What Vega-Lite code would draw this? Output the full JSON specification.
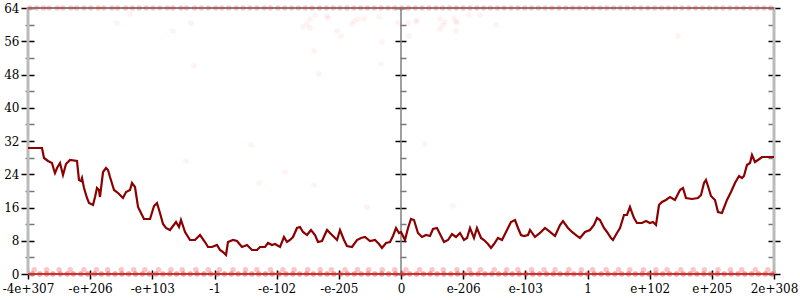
{
  "$schema": "https://vega.github.io/schema/vega-lite/v6.json",
  "width": 746,
  "height": 266,
  "autosize": {"type": "none"},
  "padding": {"left": 28, "top": 8, "right": 26, "bottom": 26},
  "background": "white",
  "config": {
    "view": {"stroke": null},
    "axis": {"labelFont": "DejaVu Serif", "labelFontSize": 12, "labelColor": "black", "grid": false, "domain": false, "title": null}
  },
  "datasets": {
    "dots": [
      {"x":-5.97,"y":64},{"x":-5.86,"y":64},{"x":-5.75,"y":64},{"x":-5.66,"y":64},{"x":-5.53,"y":64},{"x":-5.44,"y":64},{"x":-5.31,"y":64},{"x":-5.22,"y":64},{"x":-5.1,"y":64},{"x":-4.99,"y":64},{"x":-4.87,"y":64},{"x":-4.78,"y":64},{"x":-4.65,"y":64},{"x":-4.56,"y":64},{"x":-4.43,"y":64},{"x":-4.32,"y":64},{"x":-4.21,"y":64},{"x":-4.1,"y":64},{"x":-3.99,"y":64},{"x":-3.88,"y":64},{"x":-3.76,"y":64},{"x":-3.67,"y":64},{"x":-3.54,"y":64},{"x":-3.45,"y":64},{"x":-3.32,"y":64},{"x":-3.21,"y":64},{"x":-3.1,"y":64},{"x":-2.98,"y":64},{"x":-2.88,"y":64},{"x":-2.77,"y":64},{"x":-2.65,"y":64},{"x":-2.54,"y":64},{"x":-2.43,"y":64},{"x":-2.32,"y":64},{"x":-2.2,"y":64},{"x":-2.1,"y":64},{"x":-1.98,"y":64},{"x":-1.87,"y":64},{"x":-1.76,"y":64},{"x":-1.65,"y":64},{"x":-1.54,"y":64},{"x":-1.43,"y":64},{"x":-1.31,"y":64},{"x":-1.2,"y":64},{"x":-1.09,"y":64},{"x":-0.98,"y":64},{"x":-0.87,"y":64},{"x":-0.76,"y":64},{"x":-0.65,"y":64},{"x":-0.54,"y":64},{"x":-0.43,"y":64},{"x":-0.32,"y":64},{"x":-0.21,"y":64},{"x":-0.1,"y":64},{"x":0.01,"y":64},{"x":0.12,"y":64},{"x":0.23,"y":64},{"x":0.34,"y":64},{"x":0.45,"y":64},{"x":0.56,"y":64},{"x":0.67,"y":64},{"x":0.78,"y":64},{"x":0.89,"y":64},{"x":1.0,"y":64},{"x":1.11,"y":64},{"x":1.22,"y":64},{"x":1.33,"y":64},{"x":1.44,"y":64},{"x":1.55,"y":64},{"x":1.66,"y":64},{"x":1.77,"y":64},{"x":1.88,"y":64},{"x":1.99,"y":64},{"x":2.1,"y":64},{"x":2.21,"y":64},{"x":2.32,"y":64},{"x":2.43,"y":64},{"x":2.54,"y":64},{"x":2.65,"y":64},{"x":2.76,"y":64},{"x":2.87,"y":64},{"x":2.98,"y":64},{"x":3.09,"y":64},{"x":3.2,"y":64},{"x":3.31,"y":64},{"x":3.42,"y":64},{"x":3.53,"y":64},{"x":3.64,"y":64},{"x":3.75,"y":64},{"x":3.86,"y":64},{"x":3.97,"y":64},{"x":4.08,"y":64},{"x":4.19,"y":64},{"x":4.3,"y":64},{"x":4.41,"y":64},{"x":4.52,"y":64},{"x":4.63,"y":64},{"x":4.74,"y":64},{"x":4.85,"y":64},{"x":4.96,"y":64},{"x":5.07,"y":64},{"x":5.18,"y":64},{"x":5.29,"y":64},{"x":5.4,"y":64},{"x":5.51,"y":64},{"x":5.62,"y":64},{"x":5.73,"y":64},{"x":5.84,"y":64},{"x":5.95,"y":64},
      {"x":-5.93,"y":0},{"x":-5.81,"y":0},{"x":-5.7,"y":0},{"x":-5.6,"y":0},{"x":-5.48,"y":0},{"x":-5.37,"y":0},{"x":-5.27,"y":0},{"x":-5.15,"y":0},{"x":-5.04,"y":0},{"x":-4.93,"y":0},{"x":-4.82,"y":0},{"x":-4.71,"y":0},{"x":-4.6,"y":0},{"x":-4.49,"y":0},{"x":-4.38,"y":0},{"x":-4.27,"y":0},{"x":-4.16,"y":0},{"x":-4.05,"y":0},{"x":-3.94,"y":0},{"x":-3.83,"y":0},{"x":-3.72,"y":0},{"x":-3.61,"y":0},{"x":-3.5,"y":0},{"x":-3.39,"y":0},{"x":-3.28,"y":0},{"x":-3.17,"y":0},{"x":-3.06,"y":0},{"x":-2.95,"y":0},{"x":-2.84,"y":0},{"x":-2.73,"y":0},{"x":-2.62,"y":0},{"x":-2.51,"y":0},{"x":-2.4,"y":0},{"x":-2.29,"y":0},{"x":-2.18,"y":0},{"x":-2.07,"y":0},{"x":-1.96,"y":0},{"x":-1.85,"y":0},{"x":-1.74,"y":0},{"x":-1.63,"y":0},{"x":-1.52,"y":0},{"x":-1.41,"y":0},{"x":-1.3,"y":0},{"x":-1.19,"y":0},{"x":-1.08,"y":0},{"x":-0.97,"y":0},{"x":-0.86,"y":0},{"x":-0.75,"y":0},{"x":-0.64,"y":0},{"x":-0.53,"y":0},{"x":-0.42,"y":0},{"x":-0.31,"y":0},{"x":-0.2,"y":0},{"x":-0.09,"y":0},{"x":0.03,"y":0},{"x":0.14,"y":0},{"x":0.25,"y":0},{"x":0.36,"y":0},{"x":0.47,"y":0},{"x":0.58,"y":0},{"x":0.69,"y":0},{"x":0.8,"y":0},{"x":0.91,"y":0},{"x":1.02,"y":0},{"x":1.13,"y":0},{"x":1.24,"y":0},{"x":1.35,"y":0},{"x":1.46,"y":0},{"x":1.57,"y":0},{"x":1.68,"y":0},{"x":1.79,"y":0},{"x":1.9,"y":0},{"x":2.01,"y":0},{"x":2.12,"y":0},{"x":2.23,"y":0},{"x":2.34,"y":0},{"x":2.45,"y":0},{"x":2.56,"y":0},{"x":2.67,"y":0},{"x":2.78,"y":0},{"x":2.89,"y":0},{"x":3.0,"y":0},{"x":3.11,"y":0},{"x":3.22,"y":0},{"x":3.33,"y":0},{"x":3.44,"y":0},{"x":3.55,"y":0},{"x":3.66,"y":0},{"x":3.77,"y":0},{"x":3.88,"y":0},{"x":3.99,"y":0},{"x":4.1,"y":0},{"x":4.21,"y":0},{"x":4.32,"y":0},{"x":4.43,"y":0},{"x":4.54,"y":0},{"x":4.65,"y":0},{"x":4.76,"y":0},{"x":4.87,"y":0},{"x":4.98,"y":0},{"x":5.09,"y":0},{"x":5.2,"y":0},{"x":5.31,"y":0},{"x":5.42,"y":0},{"x":5.53,"y":0},{"x":5.64,"y":0},{"x":5.75,"y":0},{"x":5.86,"y":0},{"x":5.97,"y":0},
      {"x":-5.9,"y":1},{"x":-5.7,"y":1},{"x":-5.5,"y":1},{"x":-5.32,"y":1},{"x":-5.1,"y":1},{"x":-4.9,"y":1},{"x":-4.72,"y":1},{"x":-4.5,"y":1},{"x":-4.3,"y":1},{"x":-4.12,"y":1},{"x":-3.9,"y":1},{"x":-3.7,"y":1},{"x":-3.52,"y":1},{"x":-3.3,"y":1},{"x":-3.1,"y":1},{"x":-2.92,"y":1},{"x":-2.7,"y":1},{"x":-2.5,"y":1},{"x":-2.32,"y":1},{"x":-2.1,"y":1},{"x":-1.9,"y":1},{"x":-1.72,"y":1},{"x":-1.5,"y":1},{"x":-1.3,"y":1},{"x":-1.12,"y":1},{"x":-0.9,"y":1},{"x":-0.7,"y":1},{"x":-0.52,"y":1},{"x":-0.3,"y":1},{"x":-0.1,"y":1},{"x":0.08,"y":1},{"x":0.3,"y":1},{"x":0.5,"y":1},{"x":0.68,"y":1},{"x":0.9,"y":1},{"x":1.1,"y":1},{"x":1.28,"y":1},{"x":1.5,"y":1},{"x":1.7,"y":1},{"x":1.88,"y":1},{"x":2.1,"y":1},{"x":2.3,"y":1},{"x":2.48,"y":1},{"x":2.7,"y":1},{"x":2.9,"y":1},{"x":3.08,"y":1},{"x":3.3,"y":1},{"x":3.5,"y":1},{"x":3.68,"y":1},{"x":3.9,"y":1},{"x":4.1,"y":1},{"x":4.28,"y":1},{"x":4.5,"y":1},{"x":4.7,"y":1},{"x":4.88,"y":1},{"x":5.1,"y":1},{"x":5.3,"y":1},{"x":5.48,"y":1},{"x":5.7,"y":1},{"x":5.9,"y":1},
      {"x":-4.568,"y":60.39},{"x":-4.359,"y":62.56},{"x":-3.667,"y":58.47},{"x":-3.378,"y":60.39},{"x":-3.33,"y":50.05},{"x":-1.576,"y":59.43},{"x":-1.512,"y":60.15},{"x":-1.464,"y":61.36},{"x":-1.464,"y":59.19},{"x":-1.383,"y":62.32},{"x":-1.19,"y":62.08},{"x":-1.174,"y":61.6},{"x":-1.029,"y":58.47},{"x":-0.965,"y":57.27},{"x":-0.788,"y":60.15},{"x":-0.756,"y":60.88},{"x":-0.692,"y":61.36},{"x":-0.595,"y":61.36},{"x":-0.354,"y":61.84},{"x":-0.306,"y":55.82},{"x":-1.399,"y":53.66},{"x":-0.322,"y":50.53},{"x":-1.319,"y":48.12},{"x":-0.048,"y":60.39},{"x":0.113,"y":60.39},{"x":0.129,"y":57.27},{"x":0.241,"y":60.63},{"x":0.257,"y":61.12},{"x":0.627,"y":61.36},{"x":0.676,"y":59.91},{"x":0.708,"y":60.63},{"x":0.627,"y":58.95},{"x":0.852,"y":61.6},{"x":0.885,"y":60.88},{"x":0.901,"y":60.39},{"x":0.885,"y":58.47},{"x":1.094,"y":62.32},{"x":1.271,"y":62.32},{"x":1.528,"y":59.91},{"x":4.456,"y":57.27},{"x":-3.458,"y":27.19},{"x":-2.413,"y":31.04},{"x":-2.284,"y":21.9},{"x":-1.866,"y":24.54},{"x":-1.399,"y":21.41},{"x":-0.547,"y":16.12},{"x":0.386,"y":31.28},{"x":0.836,"y":16.36}
    ],
    "curve": [
      {"x":-6.0,"y":30.32},{"x":-5.775,"y":30.32},{"x":-5.742,"y":27.91},{"x":-5.678,"y":27.19},{"x":-5.614,"y":26.71},{"x":-5.582,"y":25.02},{"x":-5.566,"y":24.3},{"x":-5.533,"y":25.51},{"x":-5.485,"y":26.71},{"x":-5.437,"y":23.82},{"x":-5.389,"y":26.47},{"x":-5.324,"y":27.43},{"x":-5.212,"y":27.19},{"x":-5.18,"y":22.62},{"x":-5.147,"y":22.38},{"x":-5.131,"y":23.1},{"x":-5.099,"y":20.69},{"x":-5.051,"y":18.29},{"x":-5.019,"y":17.08},{"x":-4.954,"y":16.6},{"x":-4.922,"y":18.53},{"x":-4.89,"y":20.69},{"x":-4.858,"y":20.21},{"x":-4.842,"y":18.53},{"x":-4.793,"y":24.54},{"x":-4.745,"y":25.51},{"x":-4.713,"y":25.02},{"x":-4.681,"y":23.34},{"x":-4.616,"y":20.21},{"x":-4.552,"y":19.49},{"x":-4.504,"y":18.77},{"x":-4.472,"y":18.29},{"x":-4.423,"y":19.73},{"x":-4.359,"y":20.21},{"x":-4.327,"y":21.9},{"x":-4.279,"y":20.93},{"x":-4.23,"y":16.12},{"x":-4.182,"y":14.68},{"x":-4.134,"y":13.23},{"x":-4.037,"y":13.23},{"x":-3.973,"y":16.36},{"x":-3.925,"y":17.08},{"x":-3.877,"y":14.68},{"x":-3.828,"y":12.03},{"x":-3.78,"y":11.07},{"x":-3.716,"y":10.59},{"x":-3.619,"y":12.51},{"x":-3.571,"y":11.31},{"x":-3.539,"y":12.99},{"x":-3.474,"y":10.11},{"x":-3.394,"y":8.18},{"x":-3.314,"y":8.18},{"x":-3.233,"y":9.38},{"x":-3.153,"y":7.7},{"x":-3.104,"y":6.5},{"x":-3.04,"y":6.5},{"x":-2.96,"y":6.98},{"x":-2.911,"y":5.77},{"x":-2.863,"y":5.29},{"x":-2.815,"y":4.57},{"x":-2.783,"y":7.7},{"x":-2.702,"y":8.18},{"x":-2.638,"y":7.94},{"x":-2.558,"y":6.5},{"x":-2.477,"y":6.98},{"x":-2.397,"y":5.77},{"x":-2.316,"y":5.77},{"x":-2.268,"y":6.5},{"x":-2.188,"y":6.5},{"x":-2.139,"y":7.46},{"x":-2.075,"y":6.98},{"x":-2.027,"y":7.22},{"x":-1.946,"y":6.5},{"x":-1.882,"y":8.9},{"x":-1.834,"y":7.7},{"x":-1.785,"y":8.18},{"x":-1.737,"y":8.9},{"x":-1.673,"y":11.07},{"x":-1.625,"y":11.31},{"x":-1.576,"y":10.11},{"x":-1.512,"y":9.38},{"x":-1.448,"y":10.59},{"x":-1.383,"y":9.38},{"x":-1.335,"y":7.7},{"x":-1.271,"y":7.94},{"x":-1.19,"y":10.59},{"x":-1.11,"y":9.38},{"x":-1.029,"y":8.18},{"x":-0.981,"y":10.59},{"x":-0.917,"y":8.18},{"x":-0.869,"y":6.74},{"x":-0.788,"y":6.5},{"x":-0.708,"y":8.18},{"x":-0.643,"y":8.66},{"x":-0.579,"y":8.9},{"x":-0.499,"y":7.94},{"x":-0.418,"y":8.18},{"x":-0.354,"y":7.22},{"x":-0.306,"y":6.26},{"x":-0.241,"y":7.46},{"x":-0.177,"y":7.7},{"x":-0.129,"y":9.14},{"x":-0.08,"y":11.07},{"x":-0.032,"y":9.87},{"x":0.0,"y":10.11},{"x":0.064,"y":8.18},{"x":0.113,"y":11.07},{"x":0.161,"y":13.23},{"x":0.209,"y":12.99},{"x":0.273,"y":9.87},{"x":0.338,"y":8.9},{"x":0.402,"y":9.38},{"x":0.466,"y":9.14},{"x":0.515,"y":10.83},{"x":0.579,"y":11.07},{"x":0.627,"y":9.62},{"x":0.692,"y":7.7},{"x":0.756,"y":8.18},{"x":0.82,"y":9.62},{"x":0.885,"y":8.9},{"x":0.949,"y":9.87},{"x":1.013,"y":8.18},{"x":1.062,"y":8.66},{"x":1.11,"y":11.07},{"x":1.174,"y":8.66},{"x":1.222,"y":11.07},{"x":1.287,"y":8.66},{"x":1.335,"y":8.18},{"x":1.399,"y":7.22},{"x":1.448,"y":6.26},{"x":1.496,"y":7.22},{"x":1.56,"y":8.66},{"x":1.625,"y":8.18},{"x":1.673,"y":9.62},{"x":1.721,"y":11.07},{"x":1.769,"y":12.51},{"x":1.834,"y":12.99},{"x":1.882,"y":11.07},{"x":1.93,"y":9.38},{"x":1.978,"y":9.14},{"x":2.043,"y":9.38},{"x":2.075,"y":10.59},{"x":2.155,"y":8.9},{"x":2.236,"y":9.87},{"x":2.316,"y":11.07},{"x":2.397,"y":10.11},{"x":2.477,"y":9.14},{"x":2.558,"y":11.79},{"x":2.606,"y":12.75},{"x":2.686,"y":11.07},{"x":2.751,"y":10.11},{"x":2.815,"y":9.38},{"x":2.879,"y":8.66},{"x":2.96,"y":10.11},{"x":3.04,"y":10.59},{"x":3.104,"y":11.79},{"x":3.153,"y":13.47},{"x":3.201,"y":12.99},{"x":3.265,"y":11.07},{"x":3.314,"y":10.11},{"x":3.378,"y":8.66},{"x":3.41,"y":8.18},{"x":3.474,"y":9.87},{"x":3.523,"y":11.07},{"x":3.587,"y":14.2},{"x":3.635,"y":14.2},{"x":3.683,"y":16.12},{"x":3.748,"y":13.47},{"x":3.796,"y":12.27},{"x":3.877,"y":12.27},{"x":3.941,"y":12.75},{"x":4.005,"y":12.27},{"x":4.053,"y":12.51},{"x":4.102,"y":11.79},{"x":4.15,"y":16.6},{"x":4.198,"y":17.32},{"x":4.262,"y":17.81},{"x":4.327,"y":18.53},{"x":4.407,"y":17.81},{"x":4.488,"y":20.21},{"x":4.536,"y":20.69},{"x":4.584,"y":18.29},{"x":4.681,"y":18.05},{"x":4.777,"y":18.29},{"x":4.826,"y":19.01},{"x":4.874,"y":21.9},{"x":4.906,"y":22.62},{"x":4.938,"y":21.17},{"x":4.986,"y":18.77},{"x":5.051,"y":17.81},{"x":5.099,"y":14.92},{"x":5.163,"y":14.68},{"x":5.244,"y":17.81},{"x":5.308,"y":19.73},{"x":5.372,"y":21.9},{"x":5.437,"y":23.58},{"x":5.485,"y":23.1},{"x":5.517,"y":23.58},{"x":5.565,"y":26.23},{"x":5.614,"y":26.71},{"x":5.646,"y":28.63},{"x":5.694,"y":26.95},{"x":5.742,"y":27.43},{"x":5.807,"y":28.15},{"x":6.0,"y":28.15}
    ]
  },
  "layer": [
    {
      "data": {"values": [{}]},
      "mark": {"type": "rule", "color": "#bbbbbb", "strokeWidth": 3},
      "encoding": {"x": {"datum": -6, "type": "quantitative", "scale": {"domain": [-6, 6], "nice": false, "zero": false}, "axis": null}}
    },
    {
      "data": {"values": [{}]},
      "mark": {"type": "rule", "color": "#bbbbbb", "strokeWidth": 3},
      "encoding": {"x": {"datum": 6, "type": "quantitative", "scale": {"domain": [-6, 6], "nice": false, "zero": false}, "axis": null}}
    },
    {
      "data": {"values": [{}]},
      "mark": {"type": "rule", "color": "#808080", "strokeWidth": 1.5},
      "encoding": {"x": {"datum": 0, "type": "quantitative", "scale": {"domain": [-6, 6], "nice": false, "zero": false}, "axis": null}}
    },
    {
      "data": {"values": [{}]},
      "mark": {"type": "rule", "color": "#808080", "strokeWidth": 2},
      "encoding": {
        "y": {
          "datum": 64, "type": "quantitative",
          "scale": {"domain": [0, 64], "nice": false, "zero": false},
          "axis": {
            "orient": "left", "offset": -378, "labels": false,
            "values": [0, 4, 8, 12, 16, 20, 24, 28, 32, 36, 40, 44, 48, 52, 56, 60, 64],
            "tickSize": {"condition": {"test": "datum.value % 8 === 0", "value": 11}, "value": 6},
            "tickColor": {"condition": {"test": "datum.value % 8 === 0", "value": "#000000"}, "value": "#777777"},
            "tickWidth": 1.5
          }
        }
      }
    },
    {
      "data": {"values": [{}]},
      "mark": {"type": "rule", "color": "#aa4444", "strokeWidth": 2},
      "encoding": {"y": {"datum": 0, "type": "quantitative", "scale": {"domain": [0, 64], "nice": false, "zero": false}, "axis": null}}
    },
    {
      "data": {"name": "dots"},
      "mark": {"type": "circle", "size": 30, "color": "#e62020"},
      "encoding": {
        "x": {
          "field": "x", "type": "quantitative",
          "scale": {"domain": [-6, 6], "nice": false, "zero": false},
          "axis": {
            "orient": "bottom", "offset": -4,
            "values": [-6, -5, -4, -3, -2, -1, 0, 1, 2, 3, 4, 5, 6],
            "tickSize": 9, "tickColor": "#000000", "tickWidth": 1.5,
            "labelFont": "DejaVu Serif", "labelFontSize": 12,
            "labelPadding": 4, "labelFlush": false, "labelOverlap": false,
            "labelExpr": "['-4e+307','-e+206','-e+103','-1','-e-102','-e-205','0','e-206','e-103','1','e+102','e+205','2e+308'][round(datum.value)+6]"
          }
        },
        "y": {
          "field": "y", "type": "quantitative",
          "scale": {"domain": [0, 64], "nice": false, "zero": false},
          "axis": {
            "orient": "left", "offset": -6,
            "values": [0, 4, 8, 12, 16, 20, 24, 28, 32, 36, 40, 44, 48, 52, 56, 60, 64],
            "labelExpr": "datum.value % 8 === 0 ? datum.label : ''",
            "labelFont": "DejaVu Serif", "labelFontSize": 12,
            "tickSize": {"condition": {"test": "datum.value % 8 === 0", "value": 13}, "value": 9},
            "tickColor": {"condition": {"test": "datum.value % 8 === 0", "value": "#000000"}, "value": "#777777"},
            "tickWidth": 1.5, "labelPadding": 2
          }
        },
        "opacity": {
          "condition": [
            {"test": "datum.y === 0", "value": 0.45},
            {"test": "datum.y > 1 && datum.y < 64", "value": 0.06}
          ],
          "value": 0.25
        }
      }
    },
    {
      "data": {"name": "curve"},
      "mark": {"type": "line", "color": "#8b0000", "strokeWidth": 2.2},
      "encoding": {
        "x": {"field": "x", "type": "quantitative", "scale": {"domain": [-6, 6], "nice": false, "zero": false}, "axis": null},
        "y": {
          "field": "y", "type": "quantitative",
          "scale": {"domain": [0, 64], "nice": false, "zero": false},
          "axis": {
            "orient": "right", "offset": -6, "labels": false,
            "values": [0, 4, 8, 12, 16, 20, 24, 28, 32, 36, 40, 44, 48, 52, 56, 60, 64],
            "tickSize": {"condition": {"test": "datum.value % 8 === 0", "value": 12}, "value": 6},
            "tickColor": {"condition": {"test": "datum.value % 8 === 0", "value": "#000000"}, "value": "#777777"},
            "tickWidth": 1.5
          }
        }
      }
    }
  ],
  "resolve": {"axis": {"x": "independent", "y": "independent"}}
}
